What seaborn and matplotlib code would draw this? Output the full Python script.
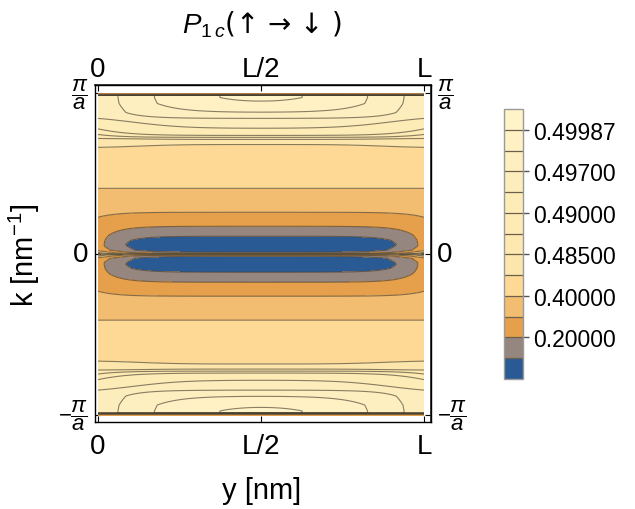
import numpy as np
import matplotlib
matplotlib.use("Agg")
import matplotlib.pyplot as plt
import seaborn as sns

# ---------------- data ----------------
# contour levels (colour-band boundaries)
levels = [0.0, 0.1, 0.2, 0.3, 0.4, 0.45, 0.485, 0.4875, 0.49, 0.495,
          0.497, 0.499, 0.49987, 0.5]
cbar_ticks = [0.2, 0.4, 0.485, 0.49, 0.497, 0.49987]
cbar_ticklabels = ["0.20000", "0.40000", "0.48500", "0.49000", "0.49700", "0.49987"]

# |k| (in units of pi/a) and value of P along k at y = L/2
q_center = [0.0, 0.006, 0.0124, 0.025, 0.062, 0.087, 0.112, 0.174, 0.261,
            0.41, 0.559, 0.683, 0.714, 0.727, 0.739, 0.783, 0.845, 0.882,
            0.938, 0.975, 0.988, 1.0]
p_center = [0.42, 0.20, 0.10, 0.045, 0.02, 0.045, 0.10, 0.20, 0.30,
            0.40, 0.43, 0.45, 0.485, 0.4875, 0.49, 0.495, 0.497, 0.499,
            0.49987, 0.49996, 0.49996, 0.22]
# |k| and value of P along k at y = 0 (and y = L)
q_edge = [0.0, 0.012, 0.025, 0.05, 0.12, 0.18, 0.23, 0.41, 0.665, 0.72,
          0.745, 0.78, 0.845, 0.975, 0.988, 1.0]
p_edge = [0.49, 0.40, 0.27, 0.235, 0.235, 0.26, 0.30, 0.40, 0.45, 0.485,
          0.4875, 0.49, 0.495, 0.4953, 0.4953, 0.22]
# width of the y-envelope as a function of |k|
lam_q = [0.0, 0.6, 0.8, 1.0]
lam_v = [0.115, 0.115, 0.16, 0.16]

x_ticks = [0.0, 0.5, 1.0]
x_ticklabels = ["0", "L/2", "L"]
y_ticks = [-1.0, 0.0, 1.0]
y_ticklabels = [r"$-\dfrac{\pi}{a}$", "0", r"$\dfrac{\pi}{a}$"]

band_colors = ["#2a5a94", "#958680", "#e6a04c", "#f2bd70", "#fdd995"]
pale_from, pale_to = "#fde6ab", "#fff3c8"

# ---------------- style ----------------
sns.set_theme(style="white")
plt.rcParams["font.family"] = ["Liberation Sans", "DejaVu Sans"]
plt.rcParams["mathtext.fontset"] = "custom"
plt.rcParams["mathtext.rm"] = "Liberation Sans"
plt.rcParams["mathtext.it"] = "Liberation Sans:italic"
plt.rcParams["mathtext.bf"] = "Liberation Sans:bold"
for key in ["text.color", "axes.labelcolor", "xtick.color", "ytick.color"]:
    plt.rcParams[key] = "black"

colors = band_colors + sns.blend_palette([pale_from, pale_to], 8, as_cmap=False)

# ---------------- field ----------------
u = np.linspace(0.0, 1.0, 501)
k = np.linspace(-1.0, 1.0, 1801)
U, K = np.meshgrid(u, k)
Q = np.abs(K)
Fc = np.interp(Q, q_center, p_center)
Ge = np.interp(Q, q_edge, p_edge)
lam = np.interp(Q, lam_q, lam_v)
E = np.tanh(U / lam) * np.tanh((1.0 - U) / lam)
Z = Ge + (Fc - Ge) * E

fig = plt.figure(figsize=(6.35, 5.10), dpi=100)
ax = fig.add_axes([95 / 635, (510 - 423) / 510, 336 / 635, 337 / 510])
ax.set_facecolor("white")

cf = ax.contourf(U, K, Z, levels=levels, colors=colors)
cl = ax.contour(U, K, Z, levels=levels[1:-1], colors="#4a4030",
                linewidths=0.8, alpha=0.65)

ax.set_xlim(-3 / 326, 1 + 7 / 326)
ax.set_ylim(-1 - 7 / 161, 1 + 8.5 / 161)

for s in ax.spines.values():
    s.set_color("black")
    s.set_linewidth(1.0)

ax.set_xticks(x_ticks, x_ticklabels)
ax.set_yticks(y_ticks, y_ticklabels)
ax.tick_params(axis="x", direction="in", length=4, width=0.8, color="black",
               labelsize=20, pad=8, bottom=True)
ax.tick_params(axis="y", direction="in", length=4, width=0.8, color="black",
               labelsize=20, pad=5, left=True)
for lab, t in zip(ax.get_yticklabels(), y_ticks):
    lab.set_va("center")
    if t != 0:
        lab.set_fontsize(16)

secx = ax.secondary_xaxis("top")
secx.set_xticks(x_ticks, x_ticklabels)
secx.tick_params(direction="in", length=4, width=0.8, labelsize=20, pad=2,
                 color="black")
secy = ax.secondary_yaxis("right")
secy.set_yticks(y_ticks, y_ticklabels)
secy.tick_params(direction="in", length=4, width=0.8, labelsize=20, pad=4,
                 color="black")
for lab, t in zip(secy.get_yticklabels(), y_ticks):
    lab.set_va("center")
    if t != 0:
        lab.set_fontsize(16)

fig.text(262 / 635, 1 - 25 / 510, r"$P_{1\,c}$(↑ → ↓ )", ha="center",
         va="center", fontsize=20, family=["DejaVu Sans"])
fig.text(262 / 635, 1 - 491 / 510, "y [nm]", ha="center", va="center",
         fontsize=21)
fig.text(24 / 635, 1 - 255 / 510, r"k [nm$^{-1}$]", ha="center", va="center",
         rotation=90, fontsize=21)

cax = fig.add_axes([504 / 635, (510 - 380) / 510, 19 / 635, 270 / 510])
cb = fig.colorbar(cf, cax=cax, ticks=cbar_ticks)
cb.set_ticklabels(cbar_ticklabels)
for lv in levels[1:-1]:
    cax.axhline(lv, color="#6b604c", lw=0.9)
cb.outline.set_edgecolor("#9a9a9a")
cb.outline.set_linewidth(1.0)
cax.tick_params(direction="out", length=4, width=1, color="#555555",
                labelsize=16.5, pad=3, labelcolor="black")

fig.savefig("out.png", dpi=100)
